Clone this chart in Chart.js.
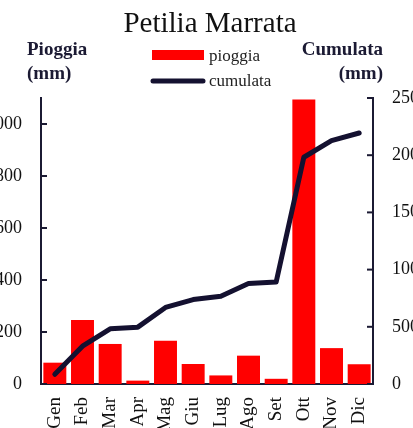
<!DOCTYPE html>
<html>
<head>
<meta charset="utf-8">
<script src="https://cdn.jsdelivr.net/npm/chart.js@4/dist/chart.umd.min.js"></script>
<style>
  html, body { margin: 0; padding: 0; background: #fff; overflow: hidden; }
  #wrap { position: absolute; left: -20px; top: 0; width: 453px; height: 450px; }
</style>
</head>
<body>
<div id="wrap"><canvas id="chart" width="453" height="450"></canvas></div>
<script>
// data
const mesi = ['Gen', 'Feb', 'Mar', 'Apr', 'Mag', 'Giu', 'Lug', 'Ago', 'Set', 'Ott', 'Nov', 'Dic'];
const pioggia = [82, 246, 154, 13, 166, 77, 33, 109, 20, 1094, 138, 76];
const cumulata = [85, 331, 482, 497, 669, 738, 767, 878, 892, 1982, 2127, 2194];
const tickPioggia = [0, 200, 400, 600, 800, 1000];
const tickCumulata = [0, 500, 1000, 1500, 2000, 2500];

const FONT = 'Liberation Serif';
const AXIS = '#1b1a33';
const OFF = 20; // canvas is shifted left by this much

// inward tick marks, titles and legend
const extras = {
  id: 'extras',
  afterDraw(chart) {
    const ctx = chart.ctx;
    ctx.save();
    ctx.strokeStyle = AXIS;
    ctx.lineWidth = 2;
    const y = chart.scales.y, y1 = chart.scales.y1;
    y.ticks.forEach((t, i) => {
      const p = y.getPixelForTick(i);
      ctx.beginPath(); ctx.moveTo(y.right, p); ctx.lineTo(y.right + 6, p); ctx.stroke();
    });
    y1.ticks.forEach((t, i) => {
      const p = y1.getPixelForTick(i);
      ctx.beginPath(); ctx.moveTo(y1.left, p); ctx.lineTo(y1.left - 6, p); ctx.stroke();
    });

    ctx.fillStyle = '#111';
    ctx.textBaseline = 'alphabetic';
    ctx.font = '29px "' + FONT + '"';
    ctx.textAlign = 'center';
    ctx.fillText('Petilia Marrata', 210 + OFF, 32);

    ctx.fillStyle = '#1b1a33';
    ctx.font = 'bold 19px "' + FONT + '"';
    ctx.textAlign = 'left';
    ctx.fillText('Pioggia', 27 + OFF, 55);
    ctx.fillText('(mm)', 27 + OFF, 79);
    ctx.textAlign = 'right';
    ctx.fillText('Cumulata', 383 + OFF, 55);
    ctx.fillText('(mm)', 383 + OFF, 79);

    // legend
    ctx.fillStyle = '#ff0000';
    ctx.fillRect(152 + OFF, 50, 52, 10);
    ctx.strokeStyle = '#141130';
    ctx.lineWidth = 5;
    ctx.lineCap = 'round';
    ctx.beginPath(); ctx.moveTo(153 + OFF, 81); ctx.lineTo(203 + OFF, 81); ctx.stroke();
    ctx.fillStyle = '#222';
    ctx.font = '17px "' + FONT + '"';
    ctx.textAlign = 'left';
    ctx.fillText('pioggia', 209 + OFF, 61);
    ctx.fillText('cumulata', 209 + OFF, 86);
    ctx.restore();
  }
};

new Chart(document.getElementById('chart'), {
  data: {
    labels: mesi,
    datasets: [
      {
        type: 'line',
        label: 'cumulata',
        data: cumulata,
        yAxisID: 'y1',
        borderColor: '#141130',
        borderWidth: 5,
        borderCapStyle: 'round',
        borderJoinStyle: 'round',
        pointRadius: 0,
        tension: 0,
        order: 0
      },
      {
        type: 'bar',
        label: 'pioggia',
        data: pioggia,
        yAxisID: 'y',
        backgroundColor: '#ff0000',
        categoryPercentage: 1,
        barPercentage: 0.83,
        order: 1
      }
    ]
  },
  options: {
    responsive: false,
    animation: false,
    layout: { padding: { top: 98, left: 0, right: 0, bottom: 0 } },
    plugins: { legend: { display: false }, title: { display: false }, tooltip: { enabled: false } },
    scales: {
      x: {
        grid: { display: false, drawTicks: false },
        border: { display: true, color: AXIS, width: 2 },
        ticks: { color: '#111', font: { family: FONT, size: 19 }, minRotation: 90, maxRotation: 90, padding: 13, autoSkip: false },
        afterFit(s) { s.height = 450 - 384; }
      },
      y: {
        position: 'left',
        min: 0, max: 1100,
        grid: { display: false, drawTicks: false },
        border: { display: true, color: AXIS, width: 2 },
        afterBuildTicks(s) { s.ticks = tickPioggia.map(v => ({ value: v })); },
        ticks: { color: '#111', font: { family: FONT, size: 18 }, padding: 19, callback: v => String(v) },
        afterFit(s) { s.width = 41 + OFF; }
      },
      y1: {
        position: 'right',
        min: 0, max: 2500,
        grid: { display: false, drawTicks: false },
        border: { display: true, color: AXIS, width: 2 },
        afterBuildTicks(s) { s.ticks = tickCumulata.map(v => ({ value: v })); },
        ticks: { color: '#111', font: { family: FONT, size: 18 }, padding: 19, callback: v => String(v) },
        afterFit(s) { s.width = 453 - 373 - OFF; }
      }
    }
  },
  plugins: [extras]
});
</script>
</body>
</html>
